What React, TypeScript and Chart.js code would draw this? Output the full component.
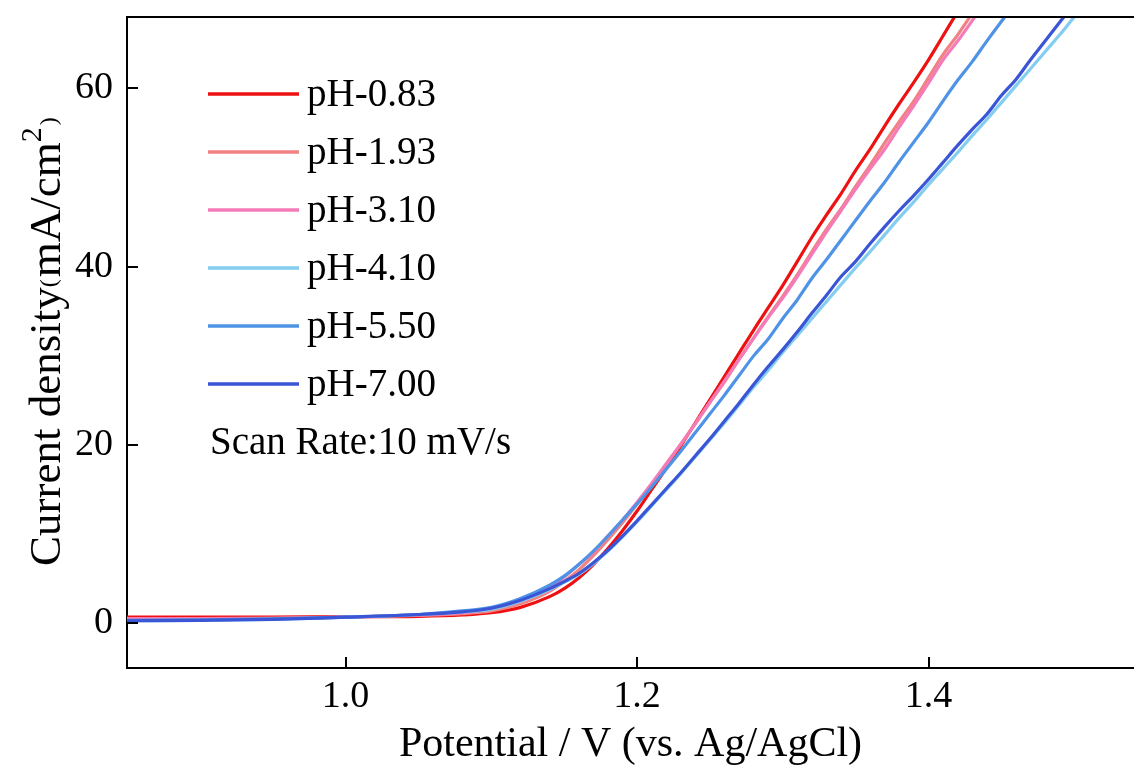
import React, { useEffect, useRef } from 'react';
import { Chart, registerables } from 'chart.js';

Chart.register(...registerables);

// Potential (V vs. Ag/AgCl)
const potential = [
  0.85, 0.9, 0.95, 1.0, 1.05, 1.08, 1.1, 1.12, 1.14,
  1.15, 1.16, 1.17, 1.18, 1.19, 1.2, 1.21, 1.22, 1.23, 1.24,
  1.25, 1.26, 1.27, 1.28, 1.29, 1.3, 1.31, 1.32, 1.33, 1.34,
  1.35, 1.36, 1.37, 1.38, 1.39, 1.4, 1.41, 1.42, 1.43, 1.44,
  1.45, 1.46, 1.47, 1.48, 1.49, 1.5, 1.51, 1.52,
];

// Current density (mA/cm2)
const ph083 = [
  0.7, 0.7, 0.72, 0.75, 0.8, 0.95, 1.2, 1.8, 3.0,
  3.9, 5.1, 6.6, 8.4, 10.4, 12.6, 15.0, 17.4, 19.9, 22.5,
  25.1, 27.7, 30.3, 32.9, 35.4, 37.9, 40.6, 43.3, 45.8, 48.2,
  50.8, 53.2, 55.8, 58.3, 60.7, 63.2, 65.9, 68.6, null, null,
  null, null, null, null, null, null, null, null,
];
const ph193 = [
  0.55, 0.55, 0.6, 0.7, 0.9, 1.1, 1.4, 2.2, 3.6,
  4.7, 6.0, 7.6, 9.4, 11.3, 13.4, 15.6, 17.8, 20.1, 22.4,
  24.8, 27.1, 29.6, 32.0, 34.4, 36.7, 39.1, 41.7, 44.2, 46.5,
  49.0, 51.4, 53.9, 56.3, 58.6, 61.2, 63.8, 66.0, 68.4, null,
  null, null, null, null, null, null, null, null,
];
const ph310 = [
  0.5, 0.5, 0.55, 0.7, 0.95, 1.2, 1.6, 2.5, 4.0,
  5.2, 6.6, 8.0, 9.8, 11.6, 13.6, 15.7, 17.9, 20.1, 22.4,
  24.8, 27.2, 29.6, 32.0, 34.3, 36.5, 38.9, 41.4, 43.9, 46.3,
  48.7, 51.0, 53.2, 55.7, 58.1, 60.6, 63.2, 65.3, 67.6, 70.0,
  null, null, null, null, null, null, null, null,
];
const ph410 = [
  0.3, 0.35, 0.45, 0.7, 1.0, 1.3, 1.6, 2.5, 3.8,
  4.6, 5.5, 6.7, 8.1, 9.7, 11.4, 13.2, 15.0, 16.8, 18.7,
  20.6, 22.5, 24.5, 26.5, 28.4, 30.4, 32.3, 34.2, 36.1, 38.0,
  39.9, 41.7, 43.6, 45.5, 47.3, 49.2, 51.0, 52.8, 54.7, 56.5,
  58.4, 60.3, 62.2, 64.1, 66.0, 68.0, 69.9, null,
];
const ph550 = [
  0.35, 0.4, 0.5, 0.7, 1.0, 1.4, 1.8, 2.8, 4.3,
  5.3, 6.6, 8.1, 9.8, 11.6, 13.4, 15.3, 17.3, 19.3, 21.4,
  23.5, 25.6, 27.8, 30.0, 31.9, 34.2, 36.3, 38.7, 40.8, 43.0,
  45.2, 47.4, 49.5, 51.8, 54.0, 56.2, 58.6, 60.9, 63.0, 65.3,
  67.5, 69.6, null, null, null, null, null, null,
];
const ph700 = [
  0.3, 0.35, 0.45, 0.7, 1.0, 1.3, 1.7, 2.6, 3.9,
  4.7, 5.6, 6.8, 8.2, 9.8, 11.5, 13.3, 15.1, 16.9, 18.8,
  20.7, 22.7, 24.7, 26.8, 28.8, 30.7, 32.7, 34.8, 36.8, 38.9,
  40.6, 42.6, 44.5, 46.3, 48.0, 49.8, 51.7, 53.6, 55.4, 57.1,
  59.2, 61.0, 63.2, 65.3, 67.4, 69.5, null, null,
];

const seriesLabels = ['pH-0.83', 'pH-1.93', 'pH-3.10', 'pH-4.10', 'pH-5.50', 'pH-7.00'];
const seriesValues = [ph083, ph193, ph310, ph410, ph550, ph700];
const seriesColors = ['#EE1111', '#F08282', '#F57AB8', '#82CDF0', '#4F93E6', '#3A55D6'];
const drawOrder = [5, 4, 3, 2, 1, 0];

const xTicks = [1.0, 1.2, 1.4];
const yTicks = [0, 20, 40, 60];
const scanRateText = 'Scan Rate:10 mV/s';
const xTitle = 'Potential / V (vs. Ag/AgCl)';
// y title pieces: [text, font size, baseline shift]
const yTitleParts: [string, number, number][] = [
  ['Current density', 45, 0],
  ['(', 24, -4],
  ['mA/cm', 45, 0],
  ['2', 30, -19],
  [')', 24, -4],
];

const FONT = '"Liberation Serif", "Times New Roman", Times, serif';

const framePlugin = {
  id: 'frame',
  afterDraw(chart: any) {
    const { ctx, chartArea, scales } = chart;
    const { left, right, top, bottom } = chartArea;
    ctx.save();
    ctx.strokeStyle = '#000';
    ctx.lineWidth = 2;
    ctx.beginPath();
    ctx.moveTo(left - 1, top);
    ctx.lineTo(right, top);
    scales.y.ticks.forEach((t: any) => {
      const py = Math.round(scales.y.getPixelForValue(t.value));
      ctx.moveTo(left, py);
      ctx.lineTo(left + 11, py);
    });
    scales.x.ticks.forEach((t: any) => {
      const px = Math.round(scales.x.getPixelForValue(t.value));
      ctx.moveTo(px, bottom);
      ctx.lineTo(px, bottom - 11);
    });
    ctx.stroke();
    ctx.restore();

    // y axis title (mixed sizes, rotated)
    ctx.save();
    ctx.translate(60, 566);
    ctx.rotate(-Math.PI / 2);
    ctx.fillStyle = '#000';
    ctx.textBaseline = 'alphabetic';
    ctx.textAlign = 'left';
    let xx = 0;
    yTitleParts.forEach(([txt, size, shift]) => {
      ctx.font = `${size}px ${FONT}`;
      ctx.fillText(txt, xx, shift);
      xx += ctx.measureText(txt).width + (txt === '(' || txt === '2' ? 2 : 0);
    });
    ctx.restore();
  },
};

const legendPlugin = {
  id: 'insideLegend',
  afterDatasetsDraw(chart: any) {
    const { ctx } = chart;
    ctx.save();
    ctx.font = `39px ${FONT}`;
    ctx.textBaseline = 'middle';
    chart.data.datasets.forEach((ds: any, i: number) => {
      const yy = 94 + i * 58;
      ctx.strokeStyle = ds.borderColor;
      ctx.lineWidth = 3.5;
      ctx.beginPath();
      ctx.moveTo(208, yy);
      ctx.lineTo(299, yy);
      ctx.stroke();
      ctx.fillStyle = '#000';
      ctx.fillText(ds.label, 307, yy + 2);
    });
    ctx.fillText(scanRateText, 210, 444);
    ctx.restore();
  },
};

export default function App() {
  const ref = useRef<HTMLCanvasElement>(null);
  useEffect(() => {
    const datasets = seriesLabels.map((label, i) => ({
      label,
      data: potential.map((v, j) => ({ x: v, y: seriesValues[i][j] })),
      borderColor: seriesColors[i],
      backgroundColor: seriesColors[i],
      borderWidth: 3.2,
      pointRadius: 0,
      cubicInterpolationMode: 'monotone' as const,
      order: drawOrder[i],
      fill: false,
    }));
    const chart = new Chart(ref.current as HTMLCanvasElement, {
      type: 'line',
      data: { datasets },
      options: {
        animation: false,
        responsive: false,
        layout: { padding: { top: 17, right: 0, left: 0, bottom: 0 } },
        plugins: { legend: { display: false }, tooltip: { enabled: false } },
        scales: {
          x: {
            type: 'linear',
            min: 0.85,
            max: 1.541,
            grid: { display: false, drawTicks: false },
            border: { display: true, color: '#000', width: 2 },
            afterBuildTicks: (s: any) => {
              s.ticks = xTicks.map((v) => ({ value: v }));
            },
            afterFit: (s: any) => {
              s.height = 98;
              s.paddingLeft = 0;
              s.paddingRight = 0;
            },
            ticks: {
              color: '#000',
              padding: 6,
              font: { family: FONT, size: 38 },
              callback: (v: any) => Number(v).toFixed(1),
            },
            title: {
              display: true,
              text: xTitle,
              color: '#000',
              font: { family: FONT, size: 42, lineHeight: 1.0 },
              padding: { top: 0, bottom: 0 },
            },
          },
          y: {
            type: 'linear',
            min: -5,
            max: 68,
            grid: { display: false, drawTicks: false },
            border: { display: true, color: '#000', width: 2 },
            afterBuildTicks: (s: any) => {
              s.ticks = yTicks.map((v) => ({ value: v }));
            },
            afterFit: (s: any) => {
              s.width = 127;
              s.paddingTop = 0;
              s.paddingBottom = 0;
            },
            ticks: {
              color: '#000',
              padding: 14,
              font: { family: FONT, size: 38 },
              callback: (v: any) => String(v),
            },
            title: { display: false },
          },
        },
      },
      plugins: [framePlugin, legendPlugin],
    });
    return () => chart.destroy();
  }, []);
  return (
    <div style={{ position: 'absolute', left: 0, top: 0, width: 1134, height: 766, background: '#fff' }}>
      <canvas ref={ref} width={1134} height={766} />
    </div>
  );
}
